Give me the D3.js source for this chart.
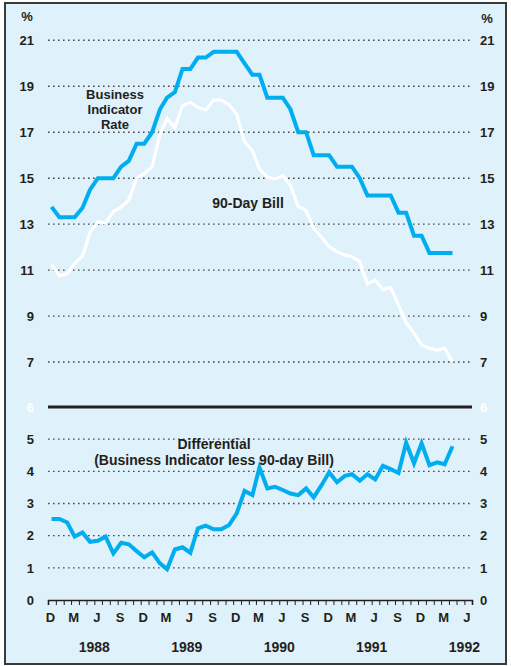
<!DOCTYPE html>
<html>
<head>
<meta charset="utf-8">
<script src="https://cdn.jsdelivr.net/npm/d3@7"></script>
<style>
    body { margin: 0; background: #fff; }
    svg text { font-family: "Liberation Sans", Arial, Helvetica, sans-serif; font-weight: bold; fill: #231f20; }
</style>
</head>
<body>
<div id="chart"></div>
<script>
// monthly observations, Dec 1987 .. Apr 1992
const firstMonth = new Date(1987, 11, 15)
const businessRate = [13.75, 13.3, 13.3, 13.3, 13.7, 14.5, 15.0, 15.0, 15.0, 15.5, 15.75, 16.5, 16.5, 17.0, 18.0, 18.5, 18.75,
    19.75, 19.75, 20.25, 20.25, 20.5, 20.5, 20.5, 20.5, 20.0, 19.5, 19.5, 18.5, 18.5, 18.5, 18.0, 17.0, 17.0, 16.0, 16.0,
    16.0, 15.5, 15.5, 15.5, 15.0, 14.25, 14.25, 14.25, 14.25, 13.5, 13.5, 12.5, 12.5, 11.75, 11.75, 11.75, 11.75]
const billRate = [11.25, 10.75, 10.85, 11.3, 11.6, 12.65, 13.1, 13.05, 13.55, 13.75, 14.05, 15.0, 15.2, 15.5, 16.9, 17.6, 17.2,
    18.15, 18.3, 18.07, 17.97, 18.4, 18.4, 18.2, 17.78, 16.6, 16.2, 15.4, 15.05, 14.97, 15.1, 14.7, 13.76, 13.6, 12.82, 12.43,
    12.02, 11.8, 11.66, 11.58, 11.37, 10.4, 10.57, 10.15, 10.25, 9.48, 8.71, 8.25, 7.74, 7.6, 7.52, 7.6, 7.0]
const differential = [2.52, 2.52, 2.41, 1.97, 2.1, 1.81, 1.84, 1.97, 1.45, 1.78, 1.73, 1.52, 1.33, 1.48, 1.14, 0.96, 1.57,
    1.64, 1.47, 2.23, 2.31, 2.2, 2.2, 2.33, 2.69, 3.39, 3.26, 4.12, 3.47, 3.52, 3.42, 3.31, 3.26, 3.47, 3.19, 3.57,
    3.97, 3.66, 3.86, 3.91, 3.71, 3.91, 3.75, 4.17, 4.07, 3.95, 4.89, 4.25, 4.87, 4.19, 4.28, 4.22, 4.78]

const topTicks = [7, 9, 11, 13, 15, 17, 19, 21]
const bottomTicks = [0, 1, 2, 3, 4, 5]
const years = [1988, 1989, 1990, 1991, 1992]
const labelMonths = [11, 2, 5, 8] // D M J S

const width = 511, height = 666
const left = 48, right = 472
const blue = '#00aeef'

const svg = d3.select('#chart').append('svg')
    .attr('width', width)
    .attr('height', height)

svg.append('rect')
    .attr('x', 5).attr('y', 3)
    .attr('width', 501).attr('height', 661)
    .attr('fill', '#dff1fa')
    .attr('stroke', '#3a3a3a')
    .attr('stroke-width', 2)

const months = businessRate.map((d, i) => d3.timeMonth.offset(firstMonth, i))

const x = d3.scaleTime()
    .domain([new Date(1987, 11, 1), new Date(1992, 6, 1)])
    .range([left, right])
const yTop = d3.scaleLinear().domain([5, 21]).range([408, 40.3])
const yBot = d3.scaleLinear().domain([0, 6]).range([600, 407])

// dotted grid
function grid(ticks, scale) {
    svg.append('g').selectAll('line')
        .data(ticks)
        .enter().append('line')
        .attr('x1', left).attr('x2', right)
        .attr('y1', d => scale(d)).attr('y2', d => scale(d))
        .attr('stroke', '#4a4a4a')
        .attr('stroke-width', 1.4)
        .attr('stroke-dasharray', '1.6,3.4')
}
grid(topTicks, yTop)
grid(bottomTicks.filter(d => d > 0), yBot)

function ylabels(ticks, scale, fill) {
    const g = svg.append('g').attr('font-size', 13)
    g.selectAll('text.l').data(ticks).enter().append('text')
        .attr('x', 34).attr('y', d => scale(d)).attr('dy', '0.36em')
        .attr('text-anchor', 'end')
        .style('fill', fill)
        .text(d => d)
    g.selectAll('text.r').data(ticks).enter().append('text')
        .attr('x', 480).attr('y', d => scale(d)).attr('dy', '0.36em')
        .style('fill', fill)
        .text(d => d)
}
ylabels(topTicks, yTop, '#231f20')
ylabels(bottomTicks, yBot, '#231f20')
ylabels([6], yBot, '#ffffff')

svg.append('text').attr('x', 27).attr('y', 21).attr('font-size', 13).attr('text-anchor', 'middle').text('%')
svg.append('text').attr('x', 487).attr('y', 23).attr('font-size', 13).attr('text-anchor', 'middle').text('%')

const lineTop = d3.line().x((d, i) => x(months[i])).y(d => yTop(d))
const lineBot = d3.line().x((d, i) => x(months[i])).y(d => yBot(d))

svg.append('path').datum(billRate)
    .attr('d', lineTop)
    .attr('fill', 'none')
    .attr('stroke', '#ffffff')
    .attr('stroke-width', 3.2)

svg.append('path').datum(businessRate)
    .attr('d', lineTop)
    .attr('fill', 'none')
    .attr('stroke', blue)
    .attr('stroke-width', 4)

svg.append('path').datum(differential)
    .attr('d', lineBot)
    .attr('fill', 'none')
    .attr('stroke', blue)
    .attr('stroke-width', 4)

// panel separator
svg.append('line')
    .attr('x1', left).attr('x2', right)
    .attr('y1', yBot(6)).attr('y2', yBot(6))
    .attr('stroke', '#231f20')
    .attr('stroke-width', 3)

// annotations
const notes = svg.append('g').attr('font-size', 14).attr('text-anchor', 'middle')
const bizLabel = notes.append('g').attr('font-size', 13)
bizLabel.append('text').attr('x', 115).attr('y', 99).text('Business')
bizLabel.append('text').attr('x', 115).attr('y', 114).text('Indicator')
bizLabel.append('text').attr('x', 115).attr('y', 129).text('Rate')
notes.append('text').attr('x', 248).attr('y', 208).text('90-Day Bill')
notes.append('text').attr('x', 214).attr('y', 449).text('Differential')
notes.append('text').attr('x', 214).attr('y', 465).text('(Business Indicator less 90-day Bill)')

// x axis
const xAxis = svg.append('g')
    .attr('transform', `translate(0, ${yBot(0)})`)
    .call(d3.axisBottom(x)
        .ticks(d3.timeMonth.every(1))
        .tickSize(5)
        .tickSizeOuter(5)
        .tickPadding(8)
        .tickFormat(d => labelMonths.includes(d.getMonth()) ? d3.timeFormat('%b')(d)[0] : ''))
xAxis.attr('font-size', 13).attr('font-family', null)
xAxis.select('.domain').attr('stroke', '#231f20').attr('stroke-width', 1.6)
xAxis.selectAll('.tick line').attr('stroke', '#231f20').attr('stroke-width', 1)
xAxis.selectAll('.tick text').attr('dx', 2).attr('fill', null)

svg.append('g').attr('font-size', 14).attr('text-anchor', 'middle')
    .selectAll('text').data(years).enter().append('text')
    .attr('x', d => x(new Date(d, 5, 1)))
    .attr('y', 652)
    .text(d => d)
</script>
</body>
</html>
